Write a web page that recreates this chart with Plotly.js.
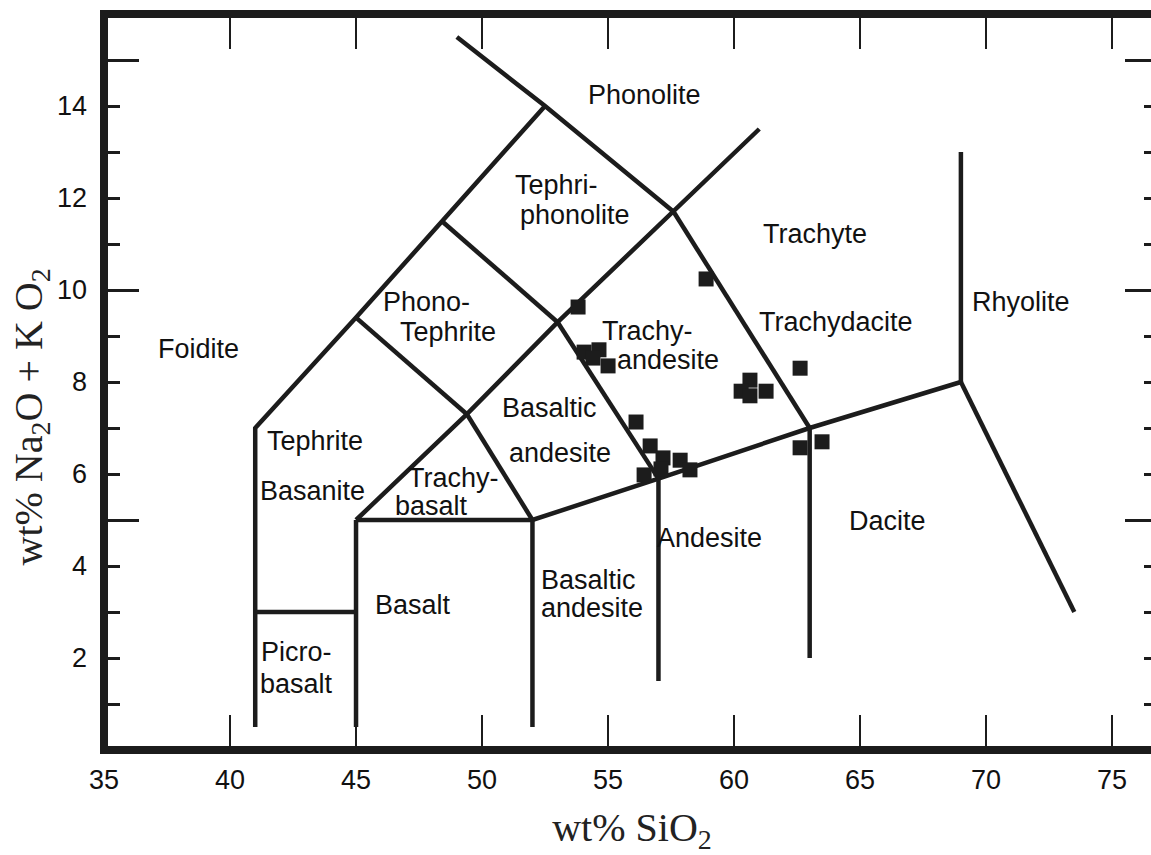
<!DOCTYPE html>
<html>
<head>
<meta charset="utf-8">
<script src="https://cdn.plot.ly/plotly-3.0.1.min.js"></script>
<style>
html, body { margin: 0; padding: 0; overflow: hidden; background: #ffffff; }
#chart { width: 1200px; height: 855px; }
</style>
</head>
<body>
<div id="chart"></div>
<script>
// ---------- TAS field boundaries (wt% SiO2, wt% Na2O + K2O) ----------
const foiditeEdgeX   = [41, 41, 45, 48.4, 52.5];
const foiditeEdgeY   = [0.5, 7, 9.4, 11.5, 14];
const phonoliteEdgeX = [49, 52.5, 57.6];
const phonoliteEdgeY = [15.5, 14, 11.7];
const trachyteEdgeX  = [45, 49.4, 53, 57.6, 61];
const trachyteEdgeY  = [5, 7.3, 9.3, 11.7, 13.5];
const phonoTephX     = [48.4, 53];
const phonoTephY     = [11.5, 9.3];
const tephriteEdgeX  = [45, 49.4];
const tephriteEdgeY  = [9.4, 7.3];
const trachybasX     = [49.4, 52];
const trachybasY     = [7.3, 5];
const trachyAndX     = [53, 57];
const trachyAndY     = [9.3, 5.9];
const trachydacX     = [57.6, 63];
const trachydacY     = [11.7, 7];
const subalkalineX   = [45, 52, 57, 63, 69];
const subalkalineY   = [5, 5, 5.9, 7, 8];
const picroX         = [41, 45];
const picroY         = [3, 3];
const basaltLineX    = [45, 45];
const basaltLineY    = [0.5, 5];
const basAndLineX    = [52, 52];
const basAndLineY    = [0.5, 5];
const andesiteLineX  = [57, 57];
const andesiteLineY  = [1.5, 5.9];
const daciteLineX    = [63, 63];
const daciteLineY    = [2, 7];
const rhyoliteLineX  = [69, 69];
const rhyoliteLineY  = [13, 8];
const rhyoDiagX      = [69, 73.5];
const rhyoDiagY      = [8, 3];

// ---------- samples ----------
const sampleSiO2   = [53.81, 54.05, 54.64, 54.40, 55.00, 58.89, 62.62, 60.63, 60.28, 61.27, 60.63,
                      56.11, 56.67, 57.18, 57.86, 58.25, 56.43, 57.10, 62.62, 63.49];
const sampleAlkali = [9.63, 8.65, 8.70, 8.52, 8.35, 10.24, 8.30, 8.04, 7.80, 7.80, 7.70,
                      7.13, 6.61, 6.35, 6.30, 6.09, 5.98, 6.11, 6.57, 6.70];

// ---------- field labels ----------
const labelText = ['Phonolite', 'Tephri-', 'phonolite', 'Trachyte', 'Phono-', 'Tephrite', 'Rhyolite',
                   'Foidite', 'Trachy-', 'andesite', 'Trachydacite', 'Basaltic', 'andesite',
                   'Tephrite', 'Basanite', 'Trachy-', 'basalt', 'Andesite', 'Dacite', 'Basalt',
                   'Basaltic', 'andesite', 'Picro-', 'basalt'];
const labelX = [56.43, 52.94, 53.69, 63.21, 47.78, 48.65, 71.39,
                38.73, 56.55, 57.38, 64.05, 52.66, 53.10,
                43.37, 43.29, 48.85, 47.98, 59.01, 66.07, 47.26,
                54.21, 54.37, 42.62, 42.62];
const labelY = [14.24, 12.28, 11.63, 11.22, 9.74, 9.09, 9.74,
                8.72, 9.11, 8.48, 9.30, 7.43, 6.46,
                6.72, 5.63, 5.92, 5.30, 4.61, 4.98, 3.15,
                3.70, 3.08, 2.13, 1.43];

// ---------- axes ----------
const xRange = [35, 76.9];
const yRange = [0, 16];
const xTickVals = [35, 40, 45, 50, 55, 60, 65, 70, 75];
const xTickText = ['35', '40', '45', '50', '55', '60', '65', '70', '75'];
const yTickVals = [2, 4, 6, 8, 10, 12, 14];
const yTickText = ['2', '4', '6', '8', '10', '12', '14'];
const yShortTickVals = [1, 3, 5, 7, 9, 11, 13, 15];
const yLongTickVals = [5, 10, 15];
const xTitle = 'wt% SiO<sub>2</sub>';
const yTitle = 'wt% Na<sub>2</sub>O + K O<sub>2</sub>';

// build one line trace from the polylines
const polylines = [
  [foiditeEdgeX, foiditeEdgeY], [phonoliteEdgeX, phonoliteEdgeY], [trachyteEdgeX, trachyteEdgeY],
  [phonoTephX, phonoTephY], [tephriteEdgeX, tephriteEdgeY], [trachybasX, trachybasY],
  [trachyAndX, trachyAndY], [trachydacX, trachydacY], [subalkalineX, subalkalineY],
  [picroX, picroY], [basaltLineX, basaltLineY], [basAndLineX, basAndLineY],
  [andesiteLineX, andesiteLineY], [daciteLineX, daciteLineY], [rhyoliteLineX, rhyoliteLineY],
  [rhyoDiagX, rhyoDiagY]
];
const lx = [], ly = [];
polylines.forEach(([xs, ys]) => { lx.push(...xs, null); ly.push(...ys, null); });

const ink = '#1c1c1c';
const sans = 'Liberation Sans, Arial, sans-serif';
const serif = 'Liberation Serif, Times New Roman, serif';

const traces = [
  { type: 'scatter', mode: 'lines', x: lx, y: ly, connectgaps: false,
    line: { color: ink, width: 4.5 }, hoverinfo: 'skip', showlegend: false },
  { type: 'scatter', mode: 'markers', x: sampleSiO2, y: sampleAlkali, yaxis: 'y2',
    marker: { symbol: 'square', size: 15, color: ink, line: { width: 0 } }, showlegend: false }
];

const annotations = labelText.map((t, i) => ({
  text: t, x: labelX[i], y: labelY[i], xref: 'x', yref: 'y',
  showarrow: false, xanchor: 'center', yanchor: 'middle',
  font: { family: sans, size: 27, color: '#111' }
}));
annotations.push({
  text: yTitle, xref: 'paper', yref: 'paper', x: -0.069, y: 0.452,
  textangle: -90, showarrow: false, xanchor: 'center', yanchor: 'middle',
  font: { family: serif, size: 40, color: '#222' }
});

const layout = {
  width: 1200, height: 855,
  margin: { l: 104, r: 40, t: 14, b: 105 },
  paper_bgcolor: '#ffffff', plot_bgcolor: '#ffffff',
  showlegend: false,
  xaxis: {
    range: xRange, tickmode: 'array', tickvals: xTickVals, ticktext: xTickText,
    ticks: 'inside', ticklen: 35, tickwidth: 2.5, tickcolor: ink, mirror: 'ticks',
    showline: false, showgrid: false, zeroline: false, ticklabelstandoff: 11,
    tickfont: { family: sans, size: 27, color: '#111' },
    title: { text: xTitle, standoff: 22, font: { family: serif, size: 40, color: '#222' } },
    automargin: false, fixedrange: true
  },
  yaxis: {
    range: yRange, tickmode: 'array', tickvals: yTickVals, ticktext: yTickText,
    ticks: 'inside', ticklen: 16, tickwidth: 3, tickcolor: ink, mirror: 'ticks',
    minor: { tickmode: 'array', tickvals: yShortTickVals, ticks: 'inside', ticklen: 16, tickwidth: 3, tickcolor: ink },
    showline: false, showgrid: false, zeroline: false, ticklabelstandoff: 16,
    tickfont: { family: sans, size: 27, color: '#111' },
    automargin: false, fixedrange: true
  },
  yaxis2: {
    range: yRange, overlaying: 'y', side: 'left', tickmode: 'array', tickvals: yLongTickVals,
    ticks: 'inside', ticklen: 35, tickwidth: 3, tickcolor: ink, mirror: 'ticks',
    showticklabels: false, showline: false, showgrid: false, zeroline: false, fixedrange: true
  },
  shapes: [
    { type: 'rect', xref: 'paper', yref: 'paper', x0: 0, x1: 1, y0: 0, y1: 1,
      line: { color: ink, width: 8 }, layer: 'above' }
  ],
  annotations: annotations
};

Plotly.newPlot('chart', traces, layout, { displayModeBar: false, staticPlot: true });
</script>
</body>
</html>
